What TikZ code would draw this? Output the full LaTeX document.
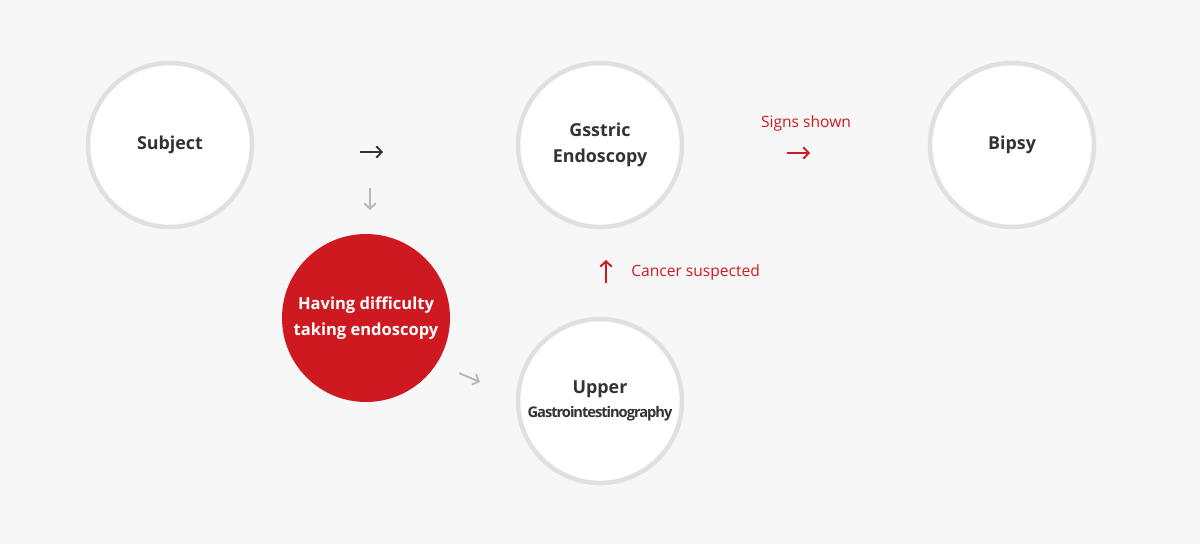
\documentclass[tikz,border=0pt]{standalone}
\usepackage{fontspec}
\setmainfont{Open Sans}
\usetikzlibrary{arrows.meta}
\definecolor{bg}{HTML}{F7F7F7}
\definecolor{ring}{HTML}{E0E0E0}
\definecolor{txt}{HTML}{333333}
\definecolor{brand}{HTML}{CF1920}
\definecolor{lightarrow}{HTML}{B8B8B8}
\tikzset{
  stage/.style={circle, fill=white, draw=ring, line width=3.4pt, minimum size=123pt, inner sep=0pt,
    text=txt, font=\bfseries\fontsize{13.4}{19.5}\selectfont, align=center},
  hot/.style={circle, fill=brand, draw=none, minimum size=126pt, inner sep=0pt,
    text=white, font=\bfseries\fontsize{12.4}{19.5}\selectfont, align=center},
  glyph/.style={line width=1.4pt, -{Straight Barb[length=4pt,width=8.5pt,line width=1.4pt]}},
  note/.style={text=brand, font=\fontsize{11.7}{14}\selectfont, inner sep=0pt}
}
\begin{document}
\begin{tikzpicture}[x=0.75pt,y=-0.75pt]
\fill[bg] (0,0) rectangle (1200,544);
\useasboundingbox (0,0) rectangle (1200,544);
\node[stage] (subj) at (170,145) {Subject};
\node[stage] (endo) at (600,145) {Gsstric\\Endoscopy};
\node[stage] (bio) at (1012,145) {Bipsy};
\node[hot] (diff) at (366,318) {Having difficulty\\taking endoscopy};
\node[stage] (upper) at (600,401) {Upper\\[-2pt]{\fontsize{11}{14}\selectfont\addfontfeatures{LetterSpace=-7}Gastrointestinography}};
% glyph arrows
\coordinate (a1s) at (360,152); \coordinate (a1e) at (383,152);
\draw[glyph, txt] (a1s) -- (a1e);
\coordinate (a2s) at (370,188); \coordinate (a2e) at (370,210);
\draw[glyph, lightarrow] (a2s) -- (a2e);
\coordinate (a3s) at (459,373); \coordinate (a3e) at (480,382);
\draw[glyph, lightarrow] (a3s) -- (a3e);
\coordinate (a4s) at (787,153); \coordinate (a4e) at (810,153);
\draw[glyph, brand] (a4s) -- (a4e);
\coordinate (a5s) at (606,283); \coordinate (a5e) at (606,260);
\draw[glyph, brand] (a5s) -- (a5e);
\node[note] (signs) at (806,123) {Signs shown};
\node[note, anchor=west] (cancer) at (631,272.5) {Cancer suspected};
\end{tikzpicture}
\end{document}
